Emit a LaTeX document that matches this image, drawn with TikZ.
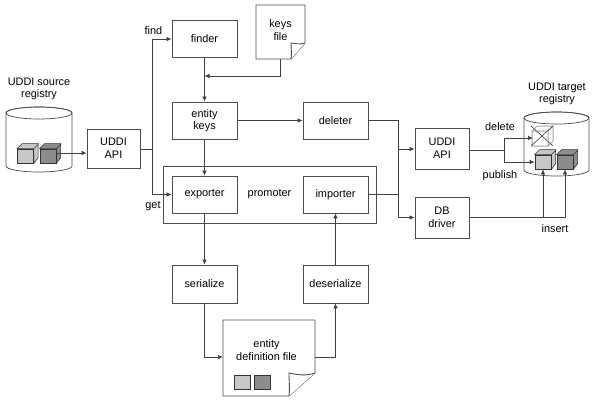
\documentclass[tikz,border=0pt]{standalone}
\usepackage{fontspec}
\setmainfont{Liberation Sans}
\usepackage{tikz}
\usetikzlibrary{arrows.meta, positioning, calc}
\definecolor{lineC}{gray}{0.3}
\tikzset{
  block/.style  = {rectangle, draw=lineC, fill=white, line width=0.9pt, align=center,
                   inner sep=0pt, font=\fontsize{10.9}{12.6}\selectfont},
  paper/.style  = {draw=lineC, fill=white, line width=0.9pt},
  faceL/.style  = {rectangle, draw=black!80, fill=black!22, line width=0.7pt,
                   minimum width=16pt, minimum height=14pt, inner sep=0pt},
  faceD/.style  = {rectangle, draw=black!80, fill=black!45, line width=0.7pt,
                   minimum width=16pt, minimum height=14pt, inner sep=0pt},
  lbl/.style    = {inner sep=0pt, align=center, font=\fontsize{10.9}{12.6}\selectfont},
  arrow/.style  = {draw=black!75, line width=0.7pt, -{Latex[length=5pt,width=4.5pt]}},
  line/.style   = {draw=black!75, line width=0.7pt},
}
% cube sides behind a front face node
\newcommand{\cubetop}[2]{%
  \draw[black!80, fill=#2, line width=0.6pt] (#1.north west) -- ++(5,-5) -- ++(16,0) -- ++(0,14)
    -- (#1.south east) -- (#1.north east) -- cycle (#1.north east) -- ++(5,-5);}
% can outline (y axis points down here, so the arcs run the other way round)
\newcommand{\drum}[4]{%
  \draw[lineC, fill=white, line width=0.7pt] (#1,#2) -- (#1,#4)
    arc[start angle=180, end angle=0, x radius={(#3-#1)/2}, y radius=6]
    -- (#3,#2) arc[start angle=0, end angle=-180, x radius={(#3-#1)/2}, y radius=6];
  \draw[lineC, line width=0.7pt] (#1,#2)
    arc[start angle=180, end angle=-180, x radius={(#3-#1)/2}, y radius=6];}
\begin{document}
\begin{tikzpicture}[x=1pt, y=-1pt]
    \useasboundingbox (0,0) rectangle (595,400);

    %% Source registry
    \drum{6}{113}{72}{166}
    \node[lbl] (srclabel) at (39,89) {UDDI source\\registry};
    \node[faceL] (srcA) at (25.5,156) {};
    \node[faceD] (srcB) at (48,156) {};
    \cubetop{srcA}{black!22}
    \cubetop{srcB}{black!45}
    \node[faceL] at (srcA) {};
    \node[faceD] at (srcB) {};

    %% Main blocks
    \node[block, minimum width=53pt, minimum height=39pt] (srcapi) at (113.5,148.5) {UDDI\\API};
    \node[block, minimum width=65pt, minimum height=37pt] (finder) at (204.5,39) {finder};
    \node[block, minimum width=65pt, minimum height=37pt] (keys)   at (204.5,120.5) {entity\\keys};
    \node[block, minimum width=65pt, minimum height=37pt] (deleter) at (335.5,120.5) {deleter};
    \node[block, minimum width=213pt, minimum height=57pt] (promoter) at (269.5,194.5) {promoter};
    \node[block, minimum width=65pt, minimum height=37pt] (exporter) at (204.5,194.5) {exporter};
    \node[block, minimum width=65pt, minimum height=37pt] (importer) at (335.5,194.5) {importer};
    \node[block, minimum width=65pt, minimum height=38pt] (serialize) at (204.5,284) {serialize};
    \node[block, minimum width=65pt, minimum height=38pt] (deserialize) at (335.5,284) {deserialize};
    \node[block, minimum width=54pt, minimum height=41pt] (tgtapi) at (442,148.5) {UDDI\\API};
    \node[block, minimum width=54pt, minimum height=41pt] (driver) at (442,217.5) {DB\\driver};

    %% Papers
    \draw[paper] (256,5) -- (305,5) -- (305,43) -- (291,59) -- (256,59) -- cycle;
    \draw[paper] (305,43) .. controls (298,45) and (295,43) .. (291,43) .. controls (291,49) and (292,54) .. (291,59);
    \node[lbl] (keysfile) at (280.5,30) {keys\\file};
    \coordinate (keysout) at (280.5,59);
    \draw[paper] (223,320) -- (315,320) -- (315,373) -- (289,396) -- (223,396) -- cycle;
    \draw[paper] (315,373) .. controls (306,376) and (298,375) .. (289,373) .. controls (289,381) and (290,389) .. (289,396);
    \node[lbl] (deffile) at (266.5,350) {entity\\definition file};
    \node[faceL] (defA) at (242.5,382) {};
    \node[faceD] (defB) at (262,382) {};
    \coordinate (defin) at (223,357);
    \coordinate (defout) at (315,357);

    %% Target registry
    \drum{524}{118}{589}{170}
    \node[lbl] (tgtlabel) at (557,94) {UDDI target\\registry};
    \draw[black!35, line width=1pt] (532,131) -- (537,126) -- (553,126) -- (553,141) -- (548,146) -- (532,146) -- cycle
      (532,131) -- (548,131) -- (548,146) (548,131) -- (553,126);
    \draw[black!75, line width=0.6pt] (531,126) -- (553,146) (531,146) -- (553,126);
    \coordinate (delmark) at (533,138);
    \node[faceL] (tgtA) at (543,162) {};
    \node[faceD] (tgtB) at (565,162) {};
    \cubetop{tgtA}{black!22}
    \cubetop{tgtB}{black!45}
    \node[faceL] at (tgtA) {};
    \node[faceD] at (tgtB) {};

    %% Junctions
    \coordinate (bus) at (152,149);
    \coordinate (keyjoin) at (204.5,76);
    \coordinate (split) at (504,150);
    \coordinate (drvjoin) at (543,217);
    \coordinate (trunktop) at (398,120.5);
    \coordinate (trunkapi) at (398,149);
    \coordinate (trunkdrv) at (398,217.5);

    %% Arrows
    \draw[arrow] (srcB.east |- 0,153) -- (srcapi.west |- 0,153);
    \draw[line]  (srcapi.east |- bus) -- (bus);
    \draw[arrow] (bus) |- (finder.west);
    \draw[arrow] (bus) |- (exporter.west);
    \draw[arrow] (finder) -- (keys);
    \draw[arrow] (keysout) |- (keyjoin);
    \draw[arrow] (keys) -- (deleter);
    \draw[arrow] (keys) -- (exporter);
    \draw[arrow] (exporter) -- (serialize);
    \draw[arrow] (deserialize) -- (importer);
    \draw[arrow] (serialize.south) |- (defin);
    \draw[arrow] (defout) -| (deserialize.south);
    \draw[arrow] (deleter) -- (trunktop) -- (trunkdrv) -- (driver);
    \draw[arrow] (trunkapi) -- (tgtapi.west |- trunkapi);
    \draw[line]  (importer) -- (importer -| trunktop);
    \draw[line]  (tgtapi.east |- split) -- (split);
    \draw[arrow] (split) |- (delmark);
    \draw[arrow] (split) |- (tgtA.west);
    \draw[arrow] (driver.east |- drvjoin) -| (tgtA.south);
    \draw[arrow] (drvjoin) -| (tgtB.south);

    %% Edge labels
    \node[lbl] (find) at (153.5,31) {find};
    \node[lbl] (get) at (153,206) {get};
    \node[lbl] (deletelbl) at (500,127) {delete};
    \node[lbl] (publish) at (500,176) {publish};
    \node[lbl] (insert) at (555,229) {insert};

  \end{tikzpicture}
\end{document}
